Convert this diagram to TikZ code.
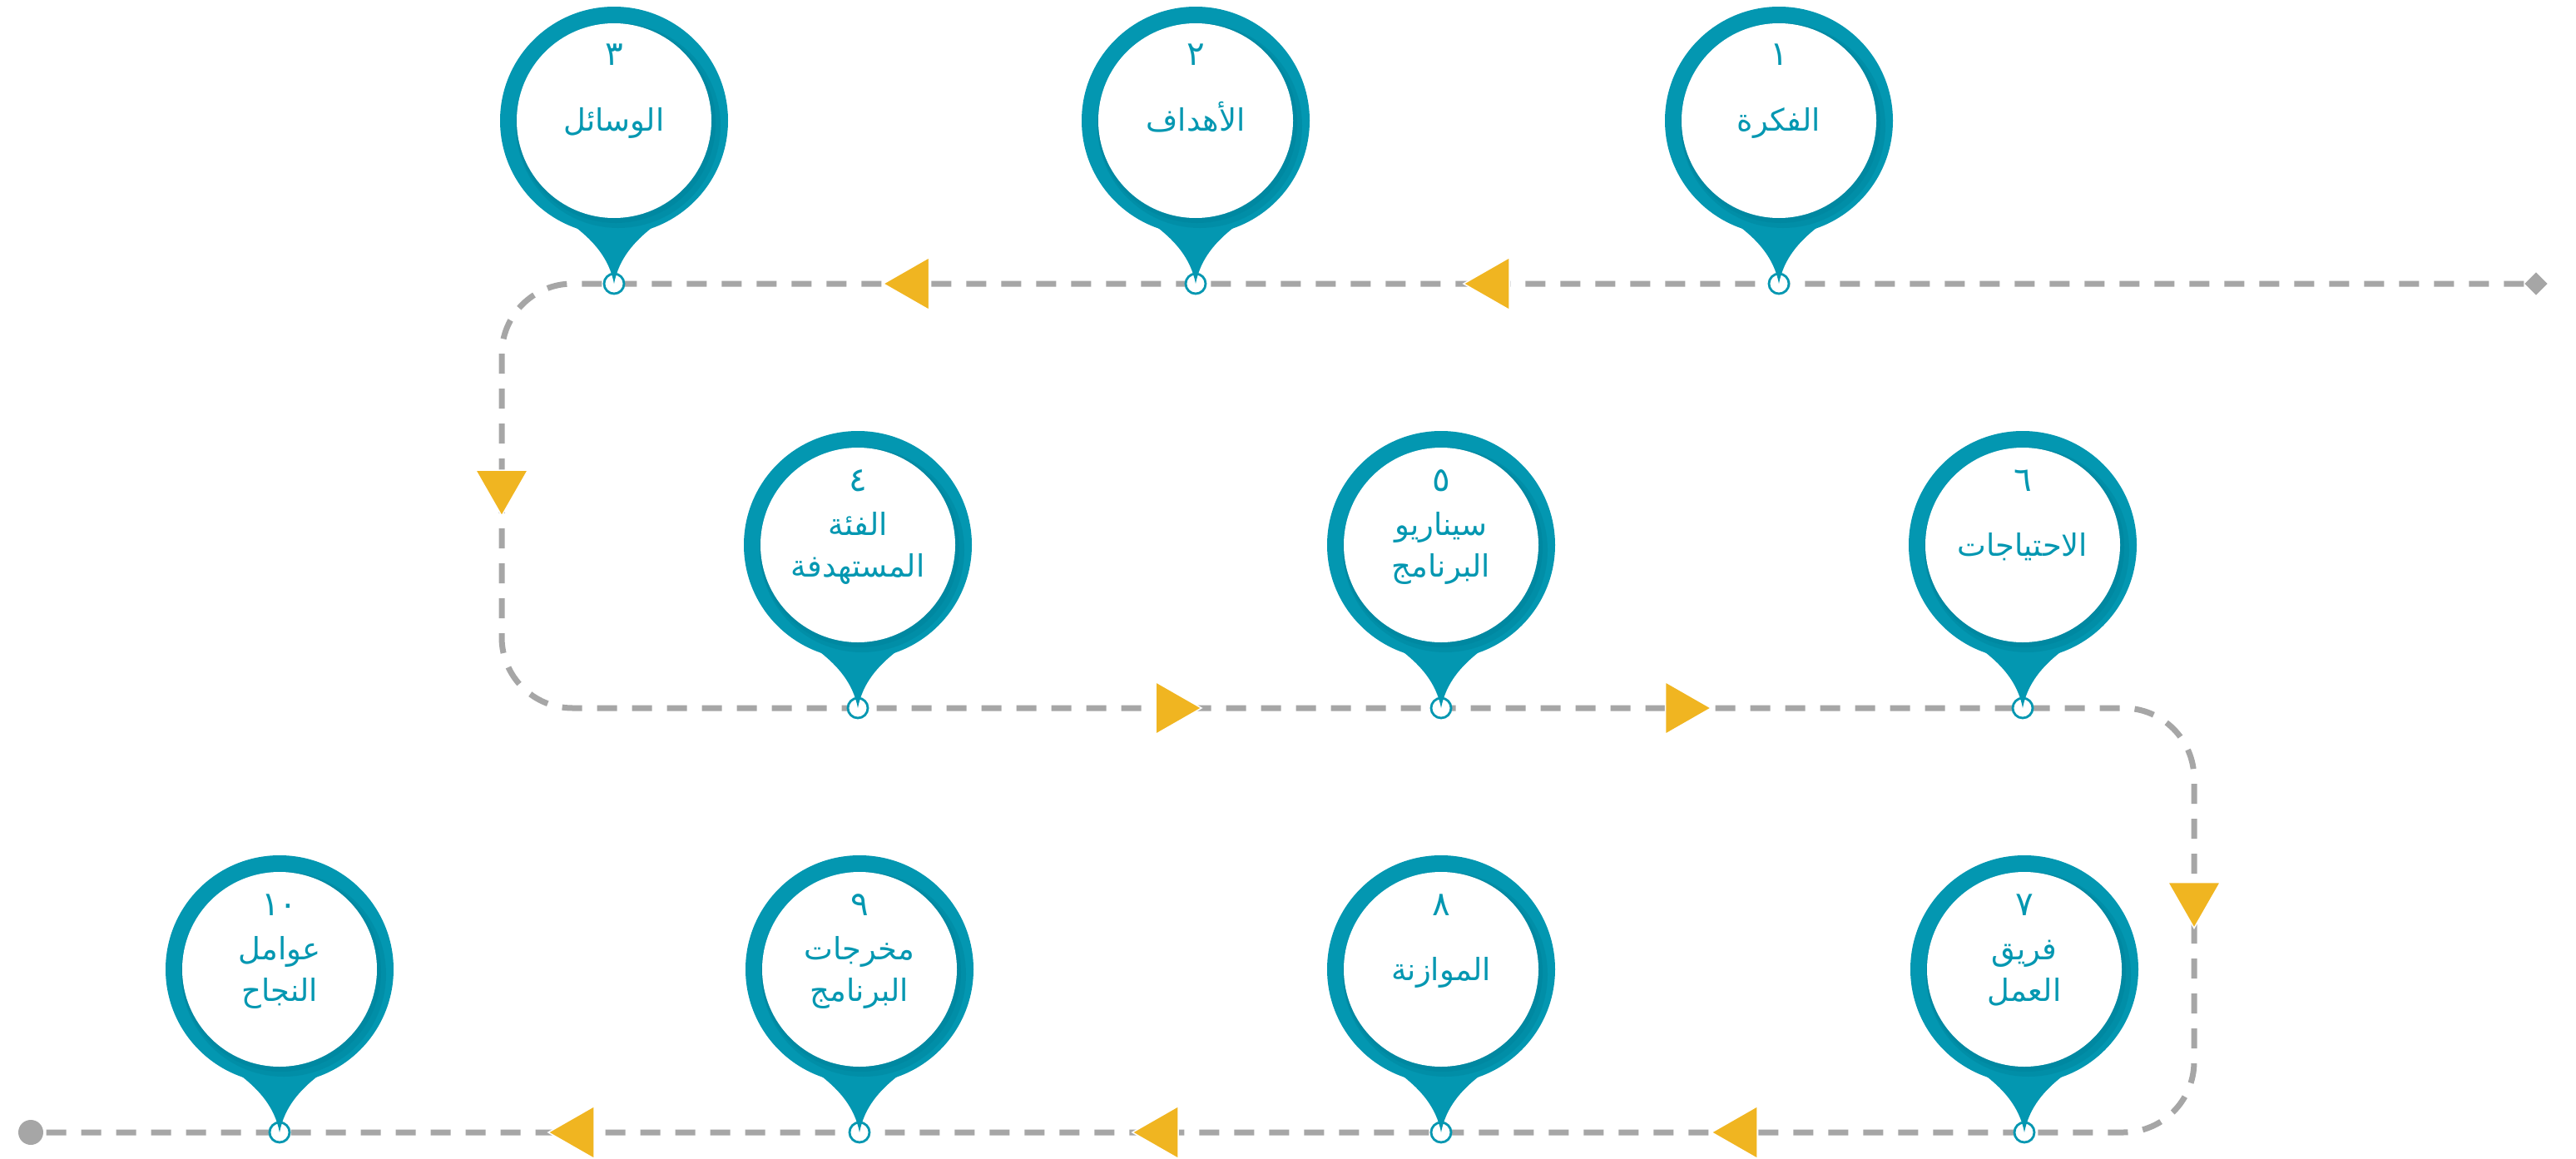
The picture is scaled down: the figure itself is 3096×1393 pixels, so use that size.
\documentclass[tikz,border=0pt]{standalone}
\usepackage{fontspec}
\newfontfamily\arabicfont[Script=Arabic]{DejaVu Sans}
\TeXXeTstate=1
\usetikzlibrary{shapes.geometric}
\definecolor{pinteal}{HTML}{0397B1}
\definecolor{pindark}{HTML}{007F97}
\definecolor{flowgray}{HTML}{A6A6A6}
\definecolor{flowyellow}{HTML}{F0B521}
\tikzset{
  flowline/.style={draw=flowgray, line width=0.7mm, dash pattern=on 2.4mm off 1.8mm, rounded corners=8.5mm},
  flowtri/.pic={\fill[flowyellow, draw=white, line width=0.15mm] (-27.5,-31.5) -- (27.5,0) -- (-27.5,31.5) -- cycle;},
  pinshape/.pic={
    \fill[pinteal] (-45,129) .. controls (-25,145) and (-6,165) .. (0,196) .. controls (6,165) and (25,145) .. (45,129) -- (0,100) -- cycle;
    \fill[pinteal] (0,0) circle (13.7mm);
    \fill[pindark, opacity=0.35] (5,6) circle (12.3mm);
    \fill[pindark, opacity=0.35] (2,3) circle (12.0mm);
    \fill[white] (0,0) circle (11.7mm);
  },
  dotring/.style={circle, draw=pinteal, fill=white, line width=0.28mm, minimum size=2.4mm, inner sep=0pt},
  numtext/.style={text=pinteal, font=\arabicfont\fontsize{11.5}{13}\selectfont, inner sep=0pt, anchor=base},
  lbltext/.style={text=pinteal, font=\arabicfont\fontsize{10.5}{12}\selectfont, inner sep=0pt, anchor=base},
  startmark/.style={diamond, fill=flowgray, minimum width=2.8mm, minimum height=2.8mm, inner sep=0pt},
  endmark/.style={circle, fill=flowgray, minimum size=3mm, inner sep=0pt},
}
\begin{document}
\begin{tikzpicture}[x=0.1mm, y=-0.1mm]
\useasboundingbox (0,0) rectangle (3096,1393);
\fill[white] (0,0) rectangle (3096,1393);
% path
\node[startmark] (start) at (3048,341) {};
\node[endmark] (end) at (37,1361) {};
\coordinate (k1) at (603,341);
\coordinate (k2) at (603,851);
\coordinate (k3) at (2637,851);
\coordinate (k4) at (2637,1361);
\draw[flowline] (start) -- (k1) -- (k2) -- (k3) -- (k4) -- (end);
% arrows
\path (1786.5,341) pic[rotate=180] {flowtri};
\path (1089,341) pic[rotate=180] {flowtri};
\path (603,592.5) pic[rotate=-90] {flowtri};
\path (1416.5,851) pic {flowtri};
\path (2029,851) pic {flowtri};
\path (2637,1088) pic[rotate=-90] {flowtri};
\path (2084.5,1361) pic[rotate=180] {flowtri};
\path (1388.5,1361) pic[rotate=180] {flowtri};
\path (686.5,1361) pic[rotate=180] {flowtri};
% dots on the line
\node[dotring] (d1) at (2138,341) {};
\node[dotring] (d2) at (1437,341) {};
\node[dotring] (d3) at (738,341) {};
\node[dotring] (d4) at (1031,851) {};
\node[dotring] (d5) at (1732,851) {};
\node[dotring] (d6) at (2431,851) {};
\node[dotring] (d7) at (2433,1361) {};
\node[dotring] (d8) at (1732,1361) {};
\node[dotring] (d9) at (1033,1361) {};
\node[dotring] (d10) at (336,1361) {};
% pins
\path (2138,145) pic {pinshape};
\path (1437,145) pic {pinshape};
\path (738,145) pic {pinshape};
\path (1031,655) pic {pinshape};
\path (1732,655) pic {pinshape};
\path (2431,655) pic {pinshape};
\path (2433,1165) pic {pinshape};
\path (1732,1165) pic {pinshape};
\path (1033,1165) pic {pinshape};
\path (336,1165) pic {pinshape};
% texts row 1
\node[numtext] (n1) at (2138,79) {\beginR ١\endR};
\node[lbltext] (l1) at (2138,158) {\beginR الفكرة\endR};
\node[numtext] (n2) at (1437,79) {\beginR ٢\endR};
\node[lbltext] (l2) at (1437,158) {\beginR الأهداف\endR};
\node[numtext] (n3) at (738,79) {\beginR ٣\endR};
\node[lbltext] (l3) at (738,158) {\beginR الوسائل\endR};
% row 2
\node[numtext] (n4) at (1031,590) {\beginR ٤\endR};
\node[lbltext] (l4a) at (1031,643) {\beginR الفئة\endR};
\node[lbltext] (l4b) at (1031,693) {\beginR المستهدفة\endR};
\node[numtext] (n5) at (1732,590) {\beginR ٥\endR};
\node[lbltext] (l5a) at (1732,643) {\beginR سيناريو\endR};
\node[lbltext] (l5b) at (1732,693) {\beginR البرنامج\endR};
\node[numtext] (n6) at (2431,590) {\beginR ٦\endR};
\node[lbltext] (l6) at (2431,668) {\beginR الاحتياجات\endR};
% row 3
\node[numtext] (n7) at (2433,1100) {\beginR ٧\endR};
\node[lbltext] (l7a) at (2433,1153) {\beginR فريق\endR};
\node[lbltext] (l7b) at (2433,1203) {\beginR العمل\endR};
\node[numtext] (n8) at (1732,1100) {\beginR ٨\endR};
\node[lbltext] (l8) at (1732,1178) {\beginR الموازنة\endR};
\node[numtext] (n9) at (1033,1100) {\beginR ٩\endR};
\node[lbltext] (l9a) at (1033,1153) {\beginR مخرجات\endR};
\node[lbltext] (l9b) at (1033,1203) {\beginR البرنامج\endR};
\node[numtext] (n10) at (336,1100) {١٠};
\node[lbltext] (l10a) at (336,1153) {\beginR عوامل\endR};
\node[lbltext] (l10b) at (336,1203) {\beginR النجاح\endR};
\end{tikzpicture}
\end{document}
